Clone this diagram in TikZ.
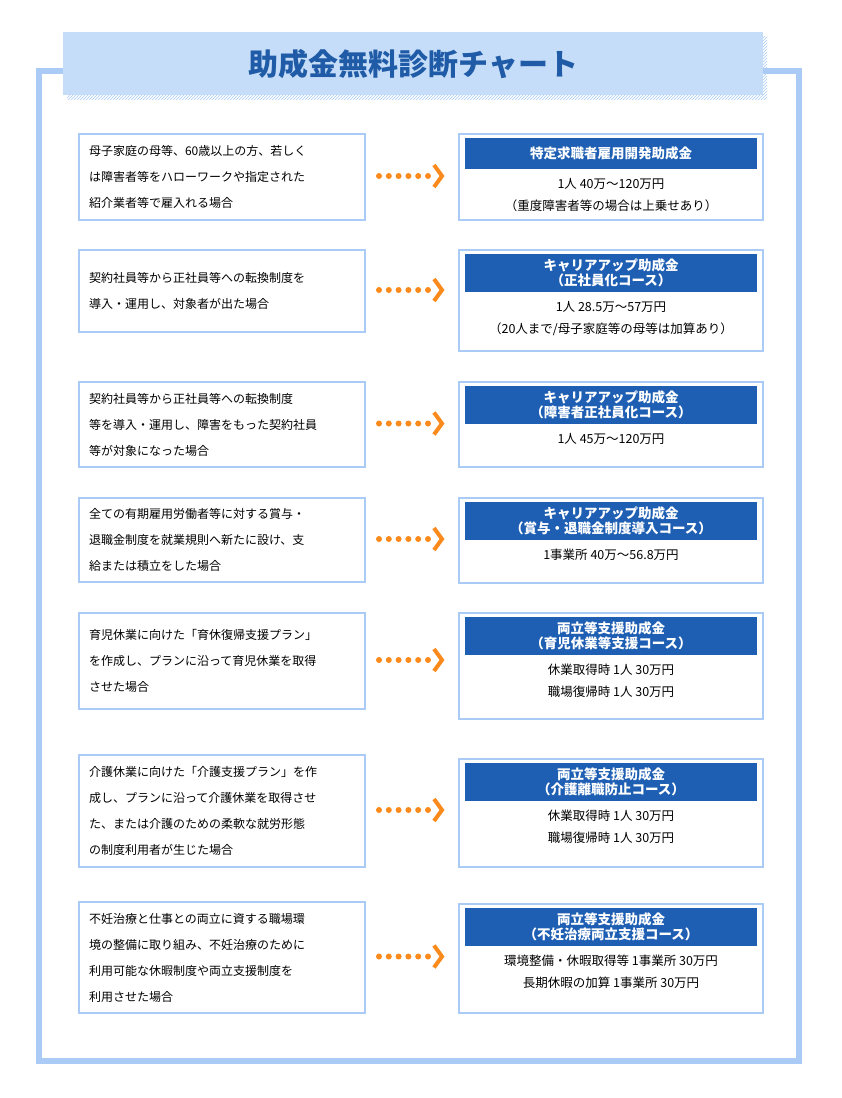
\documentclass[tikz,border=0pt]{standalone}
\usepackage{fontspec}
\setmainfont{Noto Sans CJK JP}
\usetikzlibrary{positioning,patterns}
\definecolor{frameblue}{HTML}{A9CBF5}
\definecolor{titlefill}{HTML}{C6DDF9}
\definecolor{titletext}{HTML}{1F5BA6}
\definecolor{headblue}{HTML}{1E5FB3}
\definecolor{arroworange}{HTML}{F98A1B}
\tikzset{
  casebox/.style={draw=frameblue, line width=2pt, fill=white, anchor=north west, minimum width=286pt,
    align=left, inner xsep=10pt, font=\fontsize{12}{26}\selectfont, text width=266pt},
  grantbox/.style={draw=frameblue, line width=2pt, fill=white, anchor=north west, minimum width=304pt},
  headbox/.style={fill=headblue, text=white, anchor=north, minimum width=292pt, align=center,
    inner ysep=5pt, minimum height=31pt, font=\fontsize{13.5}{15}\selectfont\bfseries},
  bodytext/.style={anchor=north, align=center, font=\fontsize{12.5}{22}\selectfont},
  dots/.style={arroworange, line width=6pt, line cap=round, dash pattern=on 0pt off 9.8pt},
  chevron/.style={arroworange, line width=4pt}
}
\newcommand\grantrow[8]{%
  % #1 name, #2 top left, #3 left height, #4 case text, #5 top right, #6 right height, #7 header, #8 body
  \node[casebox, minimum height=#3pt] (case#1) at (78,#2) {#4};
  \node[grantbox, minimum height=#6pt] (grant#1) at (458,#5) {};
  \node[headbox] (head#1) at ([yshift=-5pt]grant#1.north) {#7};
  \node[bodytext] (body#1) at ([yshift=-5pt]head#1.south) {#8};
  \draw[dots] (379,{#2+#3/2}) coordinate (from#1) -- (429,{#2+#3/2});
  \draw[chevron] ([xshift=55,yshift=11]from#1) coordinate (tip#1) -- ++(8,11) -- ++(-8,11);
}
\begin{document}
\begin{tikzpicture}[x=1pt,y=-1pt]
\useasboundingbox (0,0) rectangle (842,1098);
% frame and title
\draw[frameblue, line width=6pt] (39,71) rectangle (799,1061);
\fill[pattern=north east lines, pattern color=frameblue] (67,36) rectangle (767,99);
\node[fill=titlefill, minimum width=700pt, minimum height=63pt, anchor=north west,
  text=titletext, font=\fontsize{30}{32}\selectfont\bfseries] (title) at (63,32) {助成金無料診断チャート};

% rows
\grantrow{1}{133}{86}{母子家庭の母等、60歳以上の方、若しく\\は障害者等をハローワークや指定された\\紹介業者等で雇入れる場合}{133}{86}
  {特定求職者雇用開発助成金}{1人 40万〜120万円\\（重度障害者等の場合は上乗せあり）}
\grantrow{2}{249}{82}{契約社員等から正社員等への転換制度を\\導入・運用し、対象者が出た場合}{249}{101}
  {キャリアアップ助成金\\（正社員化コース）}{1人 28.5万〜57万円\\（20人まで/母子家庭等の母等は加算あり）}
\grantrow{3}{381}{85}{契約社員等から正社員等への転換制度\\等を導入・運用し、障害をもった契約社員\\等が対象になった場合}{381}{85}
  {キャリアアップ助成金\\（障害者正社員化コース）}{1人 45万〜120万円}
\grantrow{4}{497}{84}{全ての有期雇用労働者等に対する賞与・\\退職金制度を就業規則へ新たに設け、支\\給または積立をした場合}{497}{85}
  {キャリアアップ助成金\\（賞与・退職金制度導入コース）}{1事業所 40万〜56.8万円}
\grantrow{5}{612}{96}{育児休業に向けた「育休復帰支援プラン」\\を作成し、プランに沿って育児休業を取得\\させた場合}{612}{106}
  {両立等支援助成金\\（育児休業等支援コース）}{休業取得時 1人 30万円\\職場復帰時 1人 30万円}
\grantrow{6}{754}{112}{介護休業に向けた「介護支援プラン」を作\\成し、プランに沿って介護休業を取得させ\\た、または介護のための柔軟な就労形態\\の制度利用者が生じた場合}{758}{108}
  {両立等支援助成金\\（介護離職防止コース）}{休業取得時 1人 30万円\\職場復帰時 1人 30万円}
\grantrow{7}{901}{111}{不妊治療と仕事との両立に資する職場環\\境の整備に取り組み、不妊治療のために\\利用可能な休暇制度や両立支援制度を\\利用させた場合}{903}{109}
  {両立等支援助成金\\（不妊治療両立支援コース）}{環境整備・休暇取得等 1事業所 30万円\\長期休暇の加算 1事業所 30万円}
\end{tikzpicture}
\end{document}
